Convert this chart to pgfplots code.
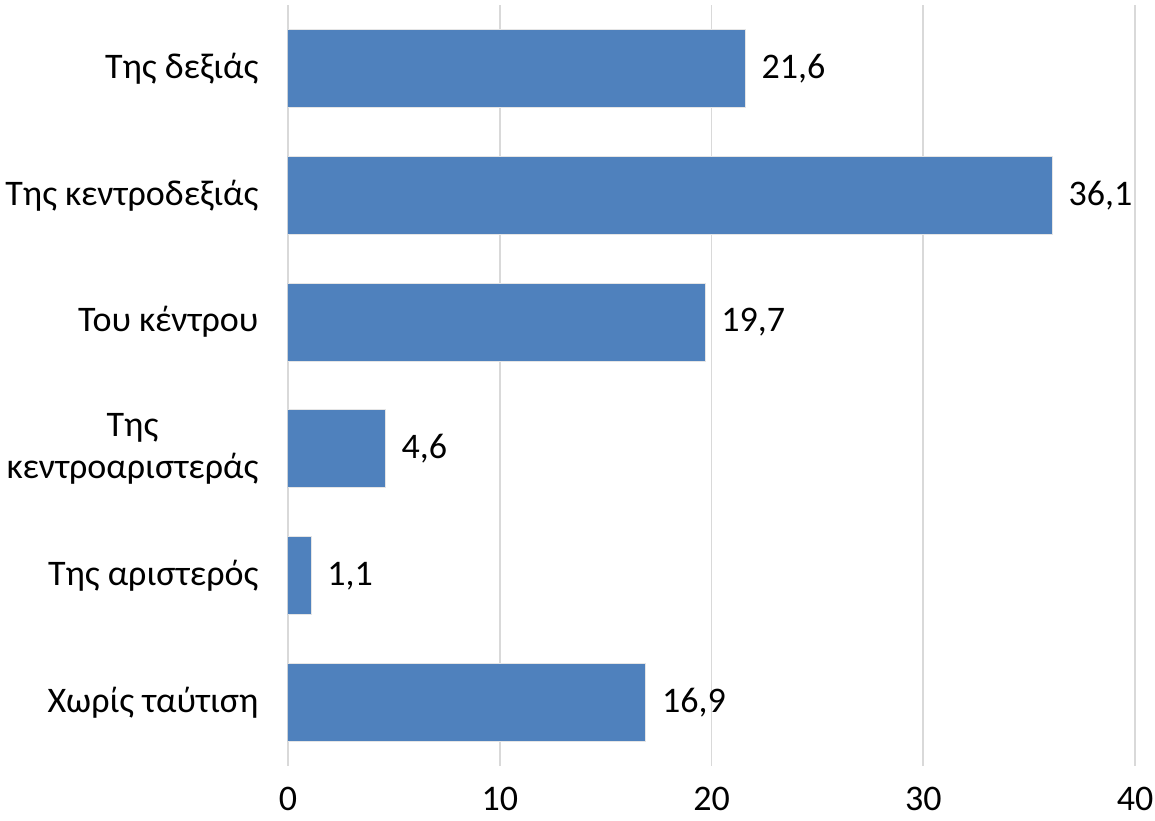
\documentclass[border=0pt]{standalone}
\usepackage{pgfplots}
\pgfplotsset{compat=1.18}
\usepackage{fontspec}
\setmainfont{Carlito}
\definecolor{barblue}{HTML}{4F81BD}
\definecolor{gridgray}{HTML}{D9D9D9}
\begin{document}
\begin{tikzpicture}
\begin{axis}[
    name=main,
    scale only axis,
    width=423.5pt, height=380.5pt,
    xbar, bar width=39pt,
    y dir=reverse,
    xmin=0, xmax=40,
    ymin=-0.5, ymax=5.5,
    xtick={0,10,20,30,40},
    ytick={0,1,2,3,4,5},
    yticklabels={Της δεξιάς, Της κεντροδεξιάς, Του κέντρου, {\shortstack{Της\\[2pt]κεντροαριστεράς}}, Της αριστερός, Χωρίς ταύτιση},
    xmajorgrids,
    grid style={gridgray, line width=0.8pt},
    axis line style={draw=none},
    tick style={draw=none},
    font=\fontsize{18}{21}\selectfont,
    /pgf/number format/assume math mode=true,
    xticklabel style={yshift=-7pt},
    yticklabel style={xshift=-7pt},
    nodes near coords,
    nodes near coords style={anchor=west, xshift=4.5pt,
        /pgf/number format/.cd, use comma, fixed, fixed zerofill, precision=1, assume math mode=true},
]
\addplot[fill=barblue, draw=white!90!black, line width=0.5pt] coordinates {
    (21.6,0) (36.1,1) (19.7,2) (4.6,3) (1.1,4) (16.9,5)
};
\end{axis}
% page frame in the reference's proportions
\pgfresetboundingbox
\path[use as bounding box] ([xshift=-144pt,yshift=-27.5pt]main.south west)
    rectangle ([xshift=10pt,yshift=2.5pt]main.north east);
\end{tikzpicture}
\end{document}
